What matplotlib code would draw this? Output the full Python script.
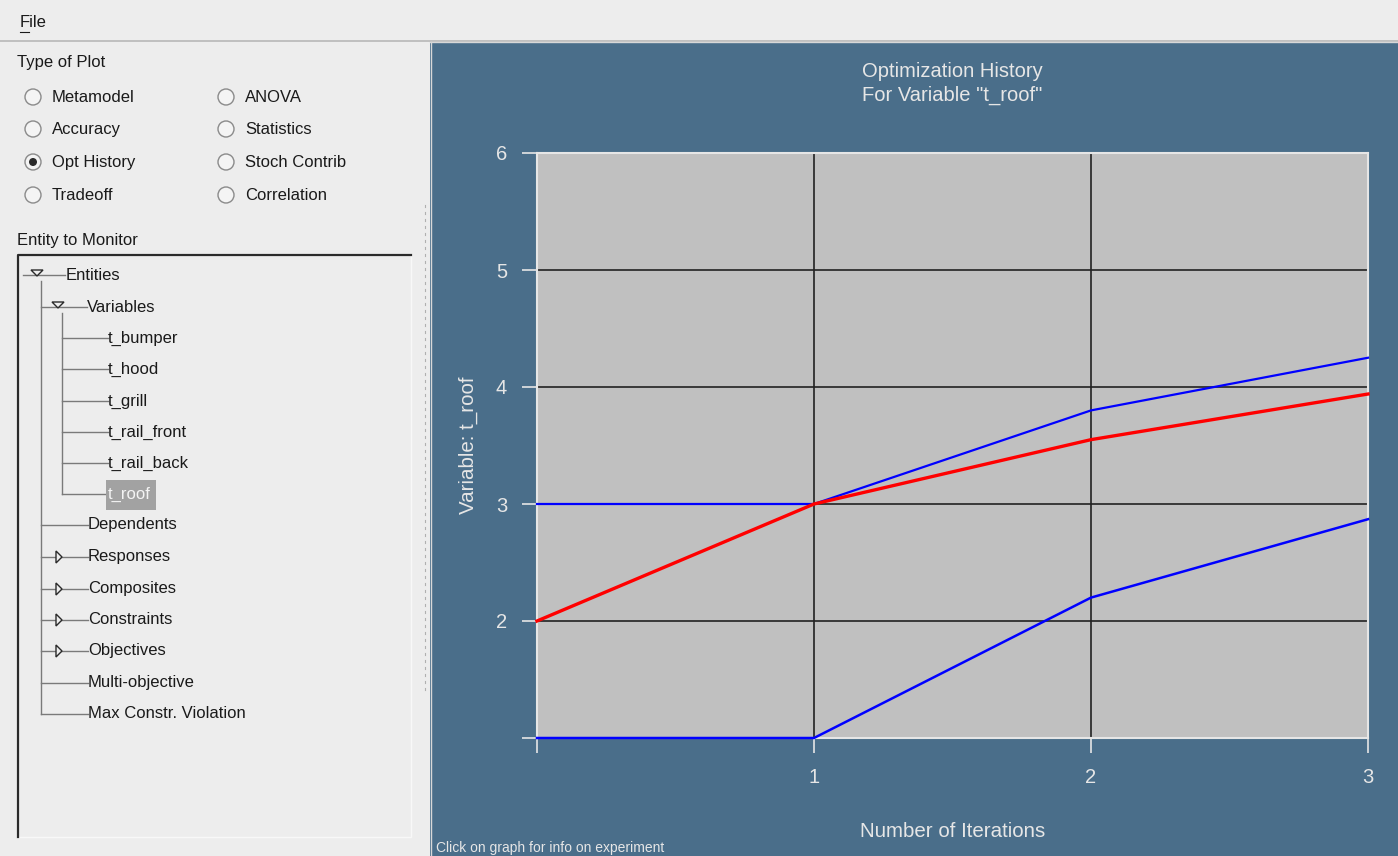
import matplotlib
matplotlib.use("Agg")
import matplotlib.pyplot as plt
from matplotlib.patches import Rectangle, Circle, Polygon

plt.rcParams['font.family'] = ['Liberation Sans', 'DejaVu Sans']

# ---------------- data ----------------
iterations = [0, 1, 2, 3]
opt_values = [2.0, 3.0, 3.55, 3.94]      # red: optimum history
upper_bound = [3.0, 3.0, 3.80, 4.25]     # blue: upper bound
lower_bound = [1.0, 1.0, 2.20, 2.87]     # blue: lower bound
x_ticks = [0, 1, 2, 3]
x_tick_labels = ["", "1", "2", "3"]
y_ticks = [1, 2, 3, 4, 5, 6]
y_tick_labels = ["", "2", "3", "4", "5", "6"]

plot_types_col1 = ["Metamodel", "Accuracy", "Opt History", "Tradeoff"]
plot_types_col2 = ["ANOVA", "Statistics", "Stoch Contrib", "Correlation"]
selected_type = "Opt History"
variables = ["t_bumper", "t_hood", "t_grill", "t_rail_front", "t_rail_back", "t_roof"]
selected_var = "t_roof"
groups = ["Dependents", "Responses", "Composites", "Constraints", "Objectives",
          "Multi-objective", "Max Constr. Violation"]
expandable = {"Responses", "Composites", "Constraints", "Objectives"}

W, H = 1398, 856
GUI_BG = "#ededed"
PANEL = "#4a6e8a"
LIGHT = "#e6e6e6"
FS = 12

fig = plt.figure(figsize=(W / 100, H / 100), dpi=100)
fig.patch.set_facecolor(GUI_BG)

# ---------------- GUI background (pixel coords) ----------------
bg = fig.add_axes([0, 0, 1, 1], zorder=0)
bg.set_xlim(0, W)
bg.set_ylim(H, 0)
bg.axis("off")

def T(x, y, s, size=FS, color="#1a1a1a", **kw):
    bg.text(x, y, s, fontsize=size, color=color, va="center", ha="left", **kw)

# menu bar
T(20, 22, "File")
bg.plot([20, 29], [32, 32], color="#1a1a1a", lw=0.8)
bg.plot([0, W], [40.5, 40.5], color="#b8b8b8", lw=1.2)

# right panel
bg.add_patch(Rectangle((430, 42), W - 430, H - 42, facecolor=PANEL, edgecolor="none"))
bg.plot([430.5, 430.5], [42, H], color="#d8d8d8", lw=1)
bg.plot([430, W], [42, 42], color="#d8d8d8", lw=1)

# splitter dots
for yy in range(205, 692, 7):
    bg.plot([425, 425], [yy, yy + 2], color="#b0b0b0", lw=0.8)

# Type of plot
T(17, 62, "Type of Plot")
rows_y = [97, 129, 162, 195]
for col_x, names in ((33, plot_types_col1), (226, plot_types_col2)):
    for yy, name in zip(rows_y, names):
        bg.add_patch(Circle((col_x, yy), 8, facecolor="#f4f4f4", edgecolor="#8a8a8a", lw=1))
        if name == selected_type:
            bg.add_patch(Circle((col_x, yy), 4, facecolor="#2a2a2a", edgecolor="none"))
        T(col_x + 19, yy, name)

# Entity to monitor
T(17, 240, "Entity to Monitor")
bg.add_patch(Rectangle((17, 254), 394, 583, facecolor=GUI_BG, edgecolor="#f8f8f8", lw=1))
bg.plot([18, 18, 411], [837, 255, 255], color="#2a2a2a", lw=1.6)

LC = "#7a7a7a"
def down_tri(cx, cy):
    bg.add_patch(Polygon([(cx - 6, cy - 3), (cx + 6, cy - 3), (cx, cy + 3)], closed=True,
                         facecolor=GUI_BG, edgecolor="#2a2a2a", lw=1, zorder=3))
def right_tri(cx, cy):
    bg.add_patch(Polygon([(cx - 2, cy - 6), (cx - 2, cy + 6), (cx + 4, cy)], closed=True,
                         facecolor=GUI_BG, edgecolor="#2a2a2a", lw=1, zorder=3))

# root
bg.plot([23, 65], [275, 275], color=LC, lw=1)
down_tri(37, 273)
T(66, 275, "Entities")
# vertical level-1
group_y = [525, 557, 589, 620, 651, 683, 714]
bg.plot([41, 41], [281, 714], color=LC, lw=1)
# Variables
bg.plot([41, 87], [307, 307], color=LC, lw=1)
down_tri(58, 305)
T(87, 307, "Variables")
var_y = [338, 369, 401, 432, 463, 494]
bg.plot([62, 62], [313, 494], color=LC, lw=1)
for yy, name in zip(var_y, variables):
    bg.plot([62, 108], [yy, yy], color=LC, lw=1)
    if name == selected_var:
        bg.add_patch(Rectangle((106, 480), 50, 30, facecolor="#a2a2a2", edgecolor="none", zorder=2))
        T(108, yy, name, color="#f4f4f4", zorder=3)
    else:
        T(108, yy, name)
for yy, name in zip(group_y, groups):
    bg.plot([41, 88], [yy, yy], color=LC, lw=1)
    if name in expandable:
        right_tri(58, yy)
    T(88, yy, name)

# footer note
T(436, 848, "Click on graph for info on experiment", size=10, color=LIGHT)

# ---------------- chart ----------------
x0, x1, y0, y1 = 537, 1368, 153, 738
ax = fig.add_axes([x0 / W, 1 - y1 / H, (x1 - x0) / W, (y1 - y0) / H], zorder=1)
ax.set_facecolor("#c0c0c0")
ax.set_xlim(0, 3)
ax.set_ylim(1, 6)
ax.set_xticks(x_ticks)
ax.set_xticklabels(x_tick_labels)
ax.set_yticks(y_ticks)
ax.set_yticklabels(y_tick_labels)
ax.grid(True, color="#222222", lw=1.2)
ax.set_axisbelow(True)
for s in ax.spines.values():
    s.set_color(LIGHT)
    s.set_linewidth(1.5)
    s.set_zorder(2.5)
ax.tick_params(axis="both", direction="out", length=11, width=1.2, color=LIGHT,
               labelcolor=LIGHT, labelsize=14.5, pad=10.5)

ax.plot(iterations, upper_bound, color="#0000ff", lw=1.6, zorder=3, clip_on=False)
ax.plot(iterations, lower_bound, color="#0000ff", lw=1.8, zorder=3, clip_on=False)
ax.plot(iterations, opt_values, color="#ff0000", lw=2.4, zorder=3, clip_on=False)

ax.set_title('Optimization History\nFor Variable "t_roof"', color=LIGHT, fontsize=14.5,
             pad=37.5, linespacing=1.3)
ax.set_xlabel("Number of Iterations", color=LIGHT, fontsize=14.8, labelpad=25)
ax.set_ylabel("Variable: t_roof", color=LIGHT, fontsize=14.8, labelpad=13)

fig.savefig("out.png", dpi=100, facecolor=fig.get_facecolor())
